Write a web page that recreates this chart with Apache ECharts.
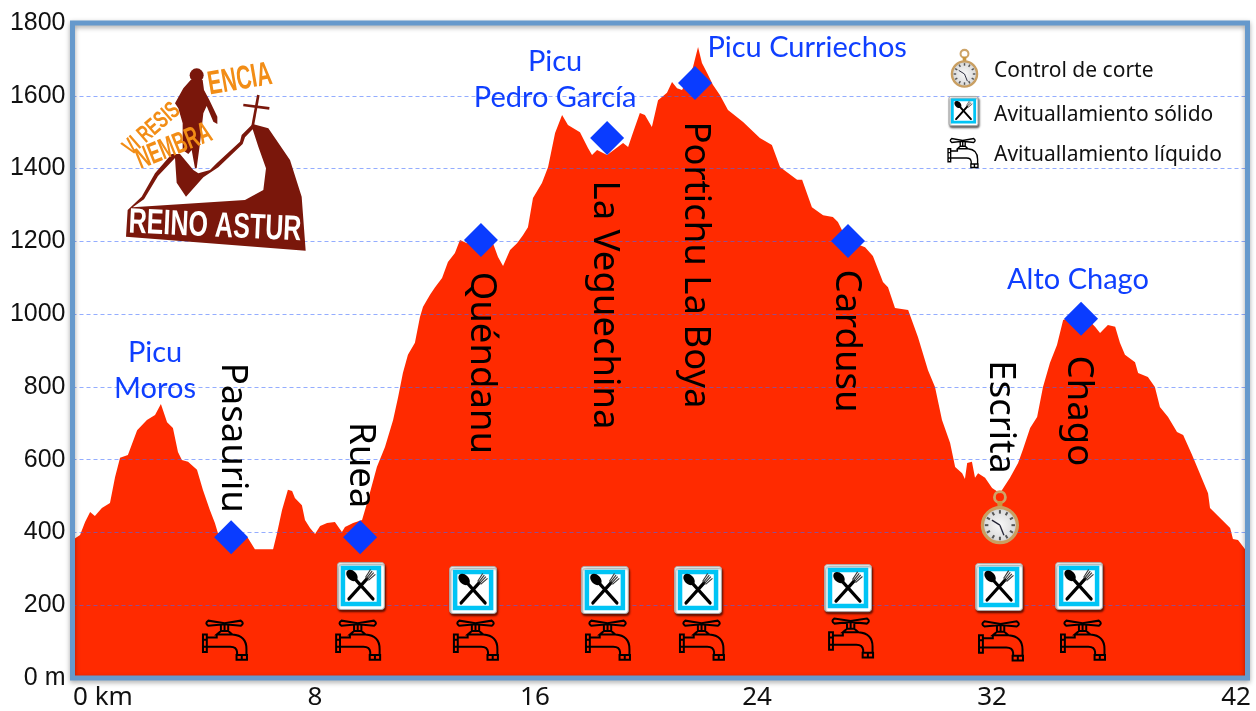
<!DOCTYPE html>
<html>
<head>
<meta charset="utf-8">
<title>Perfil VI Resistencia Nembra</title>
<script src="https://cdn.jsdelivr.net/npm/echarts@6/dist/echarts.min.js"></script>
<style>
html, body { margin: 0; padding: 0; background: #fff; }
#main { width: 1256px; height: 711px; }
</style>
</head>
<body>
<div id="main"></div>
<script>
// perfil: km y altitud
const profileKm = [0,.27,.45,.63,.8,1.05,1.34,1.52,1.7,1.98,2.31,2.66,2.95,3.16,3.38,3.59,3.77,3.91,4.13,4.45,4.66,4.91,5.09,5.2,5.63,6.27,6.52,7.17,7.31,7.49,7.7,7.85,7.95,8.2,8.31,8.49,8.67,8.85,9.1,9.38,9.63,9.74,10.03,10.35,10.56,10.88,11.17,11.46,11.64,11.81,11.99,12.24,12.42,12.53,12.78,12.96,13.21,13.42,13.67,13.85,14.1,14.56,15.03,15.21,15.39,15.64,15.89,16.1,16.28,16.46,16.78,17,17.25,17.5,17.71,18.14,18.43,18.57,18.75,19.11,19.68,19.86,20.03,20.28,20.46,20.71,20.93,21.25,21.43,21.61,21.79,22.18,22.36,22.5,22.68,22.89,23.14,23.43,23.97,24.57,25,25.29,25.9,26.08,26.43,26.83,27.18,27.36,27.68,28.33,28.61,28.97,29.15,29.4,29.87,30.22,30.58,30.83,31.08,31.37,31.55,31.8,31.9,31.98,32.15,32.26,32.37,32.62,32.87,33.15,33.51,33.8,33.97,34.23,34.48,34.69,34.94,35.19,35.41,36.05,36.55,36.73,37.01,37.27,37.44,37.62,37.98,38.09,38.44,38.69,38.87,39.16,39.48,39.7,40.02,40.59,40.66,41.38,41.48,41.66,41.88,42];
const profileAlt = [379,393,429,456,445,467,481,552,605,613,681,709,723,753,703,687,621,599,594,572,517,462,426,398,396,385,354,354,398,462,517,514,495,475,434,412,396,418,426,429,401,415,426,434,489,580,635,709,772,838,888,921,992,1020,1053,1074,1099,1143,1168,1204,1195,1215,1195,1157,1132,1176,1195,1217,1239,1319,1360,1404,1498,1547,1520,1500,1456,1437,1451,1437,1470,1459,1498,1553,1547,1514,1588,1608,1638,1621,1616,1679,1734,1690,1663,1630,1602,1561,1528,1484,1465,1404,1369,1369,1294,1272,1267,1253,1204,1184,1160,1088,1074,1017,1011,937,846,800,709,646,580,563,547,591,594,550,563,550,522,508,550,591,627,687,717,800,866,915,984,1006,965,948,970,965,921,888,868,838,827,800,745,717,676,668,613,508,467,412,382,379,357,344];

const xTickKm = [1.09, 8.67, 16.53, 24.47, 32.87, 41.59];
const xTickLabels = ['0 km', '8', '16', '24', '32', '42'];

// puntos de paso (rombos)
const diamondKm = [5.67, 10.28, 14.6, 19.11, 22.25, 27.72, 36.05];
const diamondAlt = [387, 387, 1204, 1484, 1635, 1201, 987];

// nombres en vertical
const placeNames = ['Pasauriu', 'Ruea', 'Quéndanu', 'La Veguechina', 'Portichu La Boya', 'Cardusu', 'Escrita', 'Chago'];
const placeKm = [5.7, 10.28, 14.6, 19.03, 22.25, 27.68, 33.15, 35.94];
const placeAlt = [660, 585, 866, 1025, 1135, 926, 717, 734];

// cumbres en azul
const peakNames = ['Picu\nMoros', 'Picu\nPedro García', 'Picu Curriechos', 'Alto Chago'];
const peakKm = [2.95, 17.25, 26.26, 35.94];
const peakAlt = [844, 1643, 1731, 1096];

// avituallamientos y control
const foodKm = [10.31, 14.32, 19.03, 22.36, 27.72, 33.12, 35.98];
const foodAlt = [253, 242, 242, 242, 247, 250, 253];
const tapKm = [5.45, 10.21, 14.42, 19.14, 22.5, 27.83, 33.19, 36.12];
const tapAlt = [104, 104, 104, 104, 104, 110, 102, 104];
const clockKm = [33.15];
const clockAlt = [420];

const legendLabels = ['Control de corte', 'Avituallamiento sólido', 'Avituallamiento líquido'];

const TAP_PATH = 'M21.5 3 L6 .5 Q2 3 6 5.5 L21.5 4 L37 5.5 Q41 3 37 .5 Z M18 5 V10.5 M25 5 V10.5 M21.5 5 V10.5 M14 14 L18 10.5 H25 L29 14 Z M4.5 17 H14 V14 M29 14 Q42.5 15 42.5 28 V34 M33.5 34 V31 Q33 26 27 26 H4.5 M.8 14 H4.5 V31 H.8 Z M.8 19 H4.5 M.8 26 H4.5 M33 34 H43 V38.5 H33 Z M38 34 V38.5';

function tapIcon(cx, cy) {
    return {
        type: 'path',
        shape: { pathData: TAP_PATH, layout: 'cover', x: cx - 22, y: cy - 19.5, width: 44, height: 39 },
        style: { fill: null, stroke: '#000', lineWidth: 2 }
    };
}

function foodIcon(cx, cy, k) {
    const s = 47 * k, g = [];
    g.push({ type: 'rect', shape: { x: cx - s / 2, y: cy - s / 2, width: s, height: s, r: 3 * k },
        style: { fill: '#fff', stroke: '#aaa', lineWidth: 1, shadowColor: 'rgba(0,0,0,.6)', shadowBlur: 2, shadowOffsetX: 1, shadowOffsetY: 2 } });
    g.push({ type: 'rect', shape: { x: cx - s / 2 + 5.5 * k, y: cy - s / 2 + 5.5 * k, width: s - 11 * k, height: s - 11 * k },
        style: { fill: '#fff', stroke: '#00c4f5', lineWidth: 4.5 * k } });
    // cuchara
    g.push({ type: 'line', shape: { x1: cx - 6 * k, y1: cy - 7 * k, x2: cx + 12 * k, y2: cy + 13 * k },
        style: { stroke: '#000', lineWidth: 3.2 * k, lineCap: 'round' } });
    g.push({ type: 'ellipse', x: cx - 9 * k, y: cy - 10.5 * k, rotation: Math.PI / 4,
        shape: { cx: 0, cy: 0, rx: 4.6 * k, ry: 6.6 * k }, style: { fill: '#000' } });
    // tenedor
    g.push({ type: 'line', shape: { x1: cx - 12 * k, y1: cy + 13 * k, x2: cx + 6 * k, y2: cy - 7 * k },
        style: { stroke: '#000', lineWidth: 3.2 * k, lineCap: 'round' } });
    for (let t = -1.5; t <= 1.5; t++) {
        g.push({ type: 'line', shape: { x1: cx + (6 + t) * k, y1: cy + (-7 + t) * k, x2: cx + (12 + t * 1.6) * k, y2: cy + (-14 + t * 1.6) * k },
            style: { stroke: '#333', lineWidth: 1.1 * k } });
    }
    return g;
}

function clockIcon(cx, cy, k) {
    const r = 17.5 * k, g = [];
    g.push({ type: 'circle', shape: { cx: cx, cy: cy - 28 * k, r: 5.5 * k }, style: { fill: 'none', stroke: '#cda468', lineWidth: 2.8 * k } });
    g.push({ type: 'rect', shape: { x: cx - 2.5 * k, y: cy - 24 * k, width: 5 * k, height: 7 * k }, style: { fill: '#c9973f' } });
    g.push({ type: 'circle', shape: { cx: cx, cy: cy, r: r },
        style: {
            stroke: '#c99f62', lineWidth: 3.2 * k,
            fill: { type: 'radial', x: .5, y: .5, r: .55, colorStops: [{ offset: 0, color: '#f8f8f8' }, { offset: .7, color: '#dcdcdc' }, { offset: 1, color: '#8f8f88' }] }
        } });
    for (let h = 0; h < 12; h++) {
        const a = h * Math.PI / 6;
        g.push({ type: 'line', shape: { x1: cx + Math.sin(a) * r * .66, y1: cy - Math.cos(a) * r * .66, x2: cx + Math.sin(a) * r * .86, y2: cy - Math.cos(a) * r * .86 },
            style: { stroke: '#555', lineWidth: 2 * k } });
    }
    g.push({ type: 'line', shape: { x1: cx, y1: cy, x2: cx - 8 * k, y2: cy - 5 * k }, style: { stroke: '#223', lineWidth: 1.3 * k } });
    g.push({ type: 'line', shape: { x1: cx, y1: cy, x2: cx + 4 * k, y2: cy + 10 * k }, style: { stroke: '#223', lineWidth: 1.3 * k } });
    return g;
}

function pairs(a, b) {
    return a.map(function (v, i) { return [v, b[i]]; });
}

function iconSeries(xs, ys, draw) {
    return {
        type: 'custom', z: 6, silent: true, clip: false,
        data: pairs(xs, ys),
        renderItem: function (params, api) {
            const c = api.coord([api.value(0), api.value(1)]);
            return { type: 'group', children: [].concat(draw(c[0], c[1], params.dataIndex)) };
        }
    };
}

const myChart = echarts.init(document.getElementById('main'), null, { renderer: 'canvas' });

const BROWN = '#7a170b', ORANGE = '#f28d16';
const LOGO_FONT = '"Liberation Sans"';

function logoText(text, x, y, size, rot, fill, sx) {
    return { type: 'text', x: x, y: y, rotation: rot, scaleX: sx, z: 4, style: { text: text, font: 'bold ' + size + 'px ' + LOGO_FONT, fill: fill, align: 'center', verticalAlign: 'middle' } };
}

// logo: coordenadas en unidades de 1/3 px
const logo = {
    type: 'group', x: 60, y: 0, scaleX: 1 / 3, scaleY: 1 / 3, z: 4, silent: true,
    children: [
        logoText('VI RESIS', 275, 388, 72, .72, ORANGE, .66),
        logoText('ENCIA', 540, 240, 100, .17, ORANGE, .62),
        { type: 'polygon', z: 4, shape: { points: [[203,630],[245,590],[285,520],[335,462],[360,462],[400,510],[415,520],[450,510],[470,490],[540,425],[545,405],[578,372],[625,385],[690,480],[725,590],[737,752],[198,710]] }, style: { fill: BROWN } },
        { type: 'polygon', z: 4, shape: { points: [[218,622],[555,600],[610,570],[618,505],[595,440],[578,388],[555,412],[548,432],[475,502],[430,532],[378,590],[350,548],[345,474],[294,528],[252,598]] }, style: { fill: '#fff' } },
        { type: 'line', z: 4, shape: { x1: 595, y1: 285, x2: 578, y2: 378 }, style: { stroke: BROWN, lineWidth: 8 } },
        { type: 'line', z: 4, shape: { x1: 550, y1: 315, x2: 628, y2: 325 }, style: { stroke: BROWN, lineWidth: 8 } },
        { type: 'circle', z: 4, shape: { cx: 410, cy: 226, r: 21 }, style: { fill: BROWN } },
        { type: 'polygon', z: 4, shape: { points: [[392,240],[428,240],[432,270],[448,300],[472,350],[472,372],[460,365],[440,318],[430,340],[420,430],[410,505],[405,505],[395,450],[385,462],[368,450],[368,370],[355,325],[345,310],[370,265]] }, style: { fill: BROWN } },
        logoText('NEMBRA', 342, 440, 90, .38, ORANGE, .6),
        logoText('REINO ASTUR', 465, 680, 106, -.045, '#fff', .71)
    ]
};

function legendText(i, y) {
    return { type: 'text', x: 994, y: y, z: 4, silent: true, style: { text: legendLabels[i], font: '21px "Noto Sans"', fill: '#111', align: 'left', verticalAlign: 'middle' } };
}

const option = {
    animation: false,
    backgroundColor: '#fff',
    textStyle: { fontFamily: '"Noto Sans"' },
    grid: {
        show: true, z: 10,
        left: 72.5, top: 23, width: 1175, height: 655,
        backgroundColor: 'transparent',
        borderColor: '#6699cc', borderWidth: 5,
        shadowColor: 'rgba(0,0,0,.35)', shadowBlur: 5, shadowOffsetY: 2
    },
    xAxis: {
        type: 'value', min: 0, max: 42,
        axisLine: { show: false }, axisTick: { show: false }, splitLine: { show: false },
        axisLabel: {
            customValues: xTickKm,
            margin: 7,
            color: '#111',
            fontFamily: '"Noto Sans"',
            fontSize: 26,
            formatter: function (v) { return xTickLabels[xTickKm.indexOf(v)]; }
        }
    },
    yAxis: {
        type: 'value', min: 0, max: 1800, interval: 200, z: 3,
        axisLine: { show: false }, axisTick: { show: false },
        splitLine: { show: true, lineStyle: { color: 'rgba(60,105,255,.55)', width: 1, type: [4, 3] } },
        axisLabel: {
            margin: 7,
            color: '#111',
            fontFamily: '"Liberation Sans"',
            fontSize: 25,
            formatter: function (v) { return v === 0 ? '0 m' : v; }
        }
    },
    series: [
        {
            type: 'line', z: 2, silent: true, showSymbol: false,
            data: pairs(profileKm, profileAlt),
            lineStyle: { width: 0 },
            areaStyle: { color: '#ff2a00', opacity: 1 }
        },
        {
            type: 'scatter', z: 5, silent: true,
            symbol: 'diamond', symbolSize: 34,
            itemStyle: { color: '#0a3cff', opacity: 1 },
            data: pairs(diamondKm, diamondAlt)
        },
        iconSeries(placeKm, placeAlt, function (x, y, i) {
            return { type: 'text', x: x, y: y, rotation: -Math.PI / 2, style: { text: placeNames[i], font: '36.5px "Noto Sans"', fill: '#000', align: 'center', verticalAlign: 'middle' } };
        }),
        iconSeries(peakKm, peakAlt, function (x, y, i) {
            return { type: 'text', x: x, y: y, style: { text: peakNames[i], font: '29px Lato', lineHeight: 36, fill: '#0f3fff', align: 'center', verticalAlign: 'middle' } };
        }),
        iconSeries(foodKm, foodAlt, function (x, y) { return foodIcon(x, y, 1); }),
        iconSeries(tapKm, tapAlt, function (x, y) { return tapIcon(x, y); }),
        iconSeries(clockKm, clockAlt, function (x, y) { return clockIcon(x, y, 1); }),
        {
            // iconos de la leyenda
            type: 'custom', z: 6, silent: true, coordinateSystem: 'none', data: [0],
            renderItem: function () {
                const tap = tapIcon(0, 0);
                return { type: 'group', children: [].concat(
                    clockIcon(964.5, 74, .72),
                    foodIcon(963.5, 111, .62),
                    [{ type: 'group', x: 963, y: 153, scaleX: .68, scaleY: .74, children: [tap] }]
                ) };
            }
        }
    ],
    graphic: { elements: [
        logo,
        legendText(0, 71),
        legendText(1, 115),
        legendText(2, 155)
    ] }
};

myChart.setOption(option);
</script>
</body>
</html>
